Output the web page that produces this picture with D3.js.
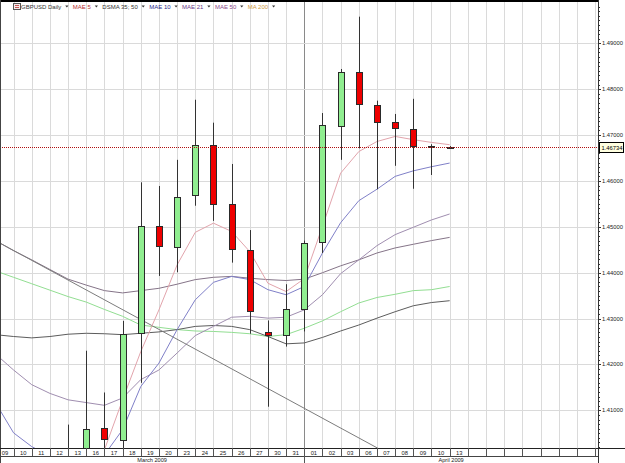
<!DOCTYPE html>
<html>
<head>
<meta charset="utf-8">
<script src="https://cdn.jsdelivr.net/npm/d3@7"></script>
<style>
body { margin: 0; background: #fff; }
svg { display: block; }
text { font-family: "Liberation Sans", Arial, sans-serif; }
</style>
</head>
<body>
<div id="chart"></div>
<script>
// day labels (one per trading session, 9 March - 13 April 2009)
const days = ["09","10","11","12","13","16","17","18","19","20","23","24","25","26","27","30","31",
              "01","02","03","06","07","08","09","10","13"];
const months = ["March 2009", "April 2009"];
const monthStart = [0, 17];

// OHLC (null = off the bottom of the chart)
const open  = [null,null,null,null,1.3985,1.3960,1.4061,1.4036,1.4268,1.4502,1.4456,1.4569,1.4678,1.4549,1.4450,1.4271,1.4264,1.4321,1.4465,1.4721,1.4837,1.4766,1.4728,1.4714,1.4677,1.4675];
const high  = [null,null,null,null,1.4069,1.4230,1.4139,1.4295,1.4597,1.4589,1.4646,1.4777,1.4727,1.4637,1.4493,1.4296,1.4375,1.4470,1.4748,1.4844,1.4958,1.4775,1.4746,1.4779,1.4680,1.4676];
const low   = [null,null,null,null,1.3900,1.3935,1.3990,1.3980,1.4160,1.4393,1.4401,1.4546,1.4513,1.4422,1.4267,1.4108,1.4239,1.4272,1.4443,1.4646,1.4671,1.4582,1.4633,1.4583,1.4613,1.4672];
const close = [null,null,null,null,1.3960,1.4060,1.4038,1.4267,1.4502,1.4459,1.4565,1.4678,1.4549,1.4451,1.4317,1.4264,1.4321,1.4465,1.4721,1.4838,1.4767,1.4729,1.4714,1.4677,1.4674,1.46734];
const lastPrice = 1.46734;

// indicator lines
const mae5  = [null,null,null,null,1.3950,1.3975,1.4014,1.4123,1.4228,1.4319,1.4417,1.4488,1.4508,1.4490,1.4446,1.4377,1.4359,1.4387,1.4501,1.4617,1.4664,1.4686,1.4697,1.4690,1.4684,1.4679];
const mae10 = [1.4117,1.4051,1.4021,1.4000,1.3990,1.3985,1.4003,1.4058,1.4152,1.4203,1.4276,1.4341,1.4379,1.4392,1.4385,1.4363,1.4352,1.4370,1.4443,1.4509,1.4557,1.4582,1.4610,1.4622,1.4631,1.4639];
const mae21 = [1.4223,1.4188,1.4156,1.4137,1.4123,1.4117,1.4111,1.4127,1.4167,1.4188,1.4225,1.4263,1.4283,1.4303,1.4305,1.4301,1.4303,1.4319,1.4352,1.4398,1.4428,1.4459,1.4483,1.4499,1.4515,1.4528];
const dsmaUp = [1.4470,1.4448,1.4428,1.4407,1.4386,1.4373,1.4361,1.4356,1.4361,1.4366,1.4375,1.4385,1.4390,1.4392,1.4388,1.4385,1.4383,1.4386,1.4400,1.4415,1.4428,1.4443,1.4454,1.4462,1.4470,1.4477];
const dsmaLo = [1.4265,1.4261,1.4258,1.4261,1.4266,1.4268,1.4267,1.4265,1.4268,1.4271,1.4276,1.4283,1.4285,1.4283,1.4276,1.4261,1.4245,1.4247,1.4259,1.4273,1.4286,1.4301,1.4315,1.4328,1.4335,1.4339];
const ma50  = [1.4404,1.4390,1.4376,1.4362,1.4348,1.4336,1.4320,1.4305,1.4286,1.4281,1.4276,1.4273,1.4272,1.4270,1.4267,1.4261,1.4265,1.4279,1.4295,1.4315,1.4334,1.4346,1.4353,1.4361,1.4363,1.4370];
const trendIdx = [0, 24];
const trendVal = [1.4470, 1.3954];

const legendNames  = ["GBPUSD Daily","MAE 5","DSMA 35; 50","MAE 10","MAE 21","MAE 50","MA 200"];
const legendColors = ["#333","#b83030","#333","#2a2a8a","#6a3a8a","#8a4a8a","#d09a40"];
const priceTicks = [1.41,1.42,1.43,1.44,1.45,1.46,1.47,1.48,1.49];

const W = 625, H = 463;
const pL = 0, pR = 598, pT = 2, pB = 448;
const nSlots = 33;

const svg = d3.select("#chart").append("svg").attr("width", W).attr("height", H);

const x = d3.scaleLinear().domain([0, nSlots]).range([-4.6, -4.6 + 18.17 * nSlots]);
const y = d3.scaleLinear().domain([1.4018, 1.4990]).range([pB, pT]);
const px = i => Math.round(x(i)) + 0.5;

svg.append("defs").append("clipPath").attr("id", "plotClip")
    .append("rect").attr("x", pL).attr("y", pT).attr("width", pR - pL).attr("height", pB - pT);

// grid
const grid = svg.append("g");
grid.selectAll(".vg").data(d3.range(1, nSlots + 1)).enter().append("line")
    .attr("x1", px).attr("x2", px).attr("y1", pT).attr("y2", pB)
    .attr("stroke", d => monthStart.includes(d) ? "#8a8a8a" : "#dadada").attr("stroke-width", 1);
grid.selectAll(".hg").data(priceTicks).enter().append("line")
    .attr("x1", pL).attr("x2", pR)
    .attr("y1", d => Math.round(y(d)) + 0.5).attr("y2", d => Math.round(y(d)) + 0.5)
    .attr("stroke", "#dadada");

const plot = svg.append("g").attr("clip-path", "url(#plotClip)");

// indicator lines
function series(vals) {
    return vals.map((v, i) => ({ i: i, v: v })).filter(d => d.v != null);
}
const line = d3.line().x(d => x(d.i)).y(d => y(d.v));
const lines = [
    { data: series(ma50), color: "#92de92" },
    { data: series(dsmaLo), color: "#5c5c5c" },
    { data: series(dsmaUp), color: "#857488" },
    { data: series(mae21), color: "#a08eb0" },
    { data: series(mae10), color: "#8080c8" },
    { data: trendIdx.map((t, k) => ({ i: t, v: trendVal[k] })), color: "#7c7c7c" },
    { data: series(mae5), color: "#e2a4ac" }
];
plot.selectAll(".ma").data(lines).enter().append("path")
    .attr("d", d => line(d.data)).attr("fill", "none")
    .attr("stroke", d => d.color).attr("stroke-width", 1);

// candles
const candles = days.map((d, i) => ({ i: i, o: open[i], h: high[i], l: low[i], c: close[i] }))
    .filter(d => d.o != null);
const cg = plot.selectAll(".candle").data(candles).enter().append("g");
cg.append("line")
    .attr("x1", d => px(d.i)).attr("x2", d => px(d.i))
    .attr("y1", d => y(d.h)).attr("y2", d => y(d.l))
    .attr("stroke", "#333");
cg.append("rect")
    .attr("x", d => px(d.i) - 3).attr("width", 6)
    .attr("y", d => Math.round(y(Math.max(d.o, d.c))) + 0.5)
    .attr("height", d => Math.max(1, Math.round(Math.abs(y(d.o) - y(d.c)))))
    .attr("fill", d => d.c >= d.o ? "#90ee90" : "#ee0000")
    .attr("stroke", "#2a2a2a");

// last price line
plot.append("line")
    .attr("x1", pL).attr("x2", pR)
    .attr("y1", Math.round(y(lastPrice)) + 0.5).attr("y2", Math.round(y(lastPrice)) + 0.5)
    .attr("stroke", "#b01010").attr("stroke-dasharray", "1,1");

// frame
svg.append("line").attr("x1", 0).attr("x2", pR).attr("y1", 1).attr("y2", 1)
    .attr("stroke", "#000").attr("stroke-width", 2);
svg.append("line").attr("x1", 0.5).attr("x2", 0.5).attr("y1", 0).attr("y2", H)
    .attr("stroke", "#444");
svg.append("line").attr("x1", pR + 0.5).attr("x2", pR + 0.5).attr("y1", 0).attr("y2", H)
    .attr("stroke", "#333");

// right price axis
const ax = svg.append("g");
ax.selectAll(".mt").data(d3.range(1402, 1499).map(v => v / 1000)).enter().append("line")
    .attr("x1", pR).attr("x2", d => pR + (Math.abs(d * 100 - Math.round(d * 100)) < 1e-6 ? 3 : 2))
    .attr("y1", d => Math.round(y(d)) + 0.5).attr("y2", d => Math.round(y(d)) + 0.5)
    .attr("stroke", "#333");
ax.selectAll(".tl").data(priceTicks).enter().append("text")
    .attr("x", pR + 4).attr("y", d => y(d) + 2)
    .attr("font-size", 5.8).attr("fill", "#222")
    .text(d3.format(".5f"));
const ly = Math.round(y(lastPrice));
ax.append("rect").attr("x", pR + 1.5).attr("y", ly - 4.5).attr("width", 24).attr("height", 10)
    .attr("fill", "#ffffe0").attr("stroke", "#000");
ax.append("text").attr("x", pR + 3.5).attr("y", ly + 2.5)
    .attr("font-size", 5.8).attr("fill", "#000").text(d3.format(".5f")(lastPrice));

// bottom time axis
const bx = svg.append("g");
bx.append("line").attr("x1", 0).attr("x2", W).attr("y1", pB + 0.5).attr("y2", pB + 0.5).attr("stroke", "#222");
bx.append("line").attr("x1", 0).attr("x2", pR).attr("y1", 456.5).attr("y2", 456.5).attr("stroke", "#444");
bx.selectAll(".sep").data(d3.range(1, nSlots + 1)).enter().append("line")
    .attr("x1", px).attr("x2", px).attr("y1", pB)
    .attr("y2", d => monthStart.includes(d) ? H : 456)
    .attr("stroke", "#555");
bx.selectAll(".dl").data(days).enter().append("text")
    .attr("x", (d, i) => (x(i) + x(i + 1)) / 2 + 0.5).attr("y", 454.5)
    .attr("text-anchor", "middle").attr("font-size", 5.8).attr("fill", "#222")
    .text(d => d);
bx.selectAll(".ml").data(months).enter().append("text")
    .attr("x", (d, k) => {
        const a = k === 0 ? 0 : x(monthStart[k]);
        const b = k + 1 < months.length ? x(monthStart[k + 1]) : pR;
        return (a + b) / 2;
    })
    .attr("y", 462.3).attr("text-anchor", "middle").attr("font-size", 5.6).attr("fill", "#222")
    .text(d => d);

// legend
const lg = svg.append("g");
lg.append("rect").attr("x", 13.5).attr("y", 3.5).attr("width", 7).attr("height", 6)
    .attr("fill", "#f4e8e8").attr("stroke", "#555");
lg.append("path").attr("d", "M15,5.5H19M15,7.5H19").attr("stroke", "#b83030").attr("stroke-width", 0.8);
let lx = 21;
legendNames.forEach((name, k) => {
    const t = lg.append("text").attr("x", lx).attr("y", 8.5).attr("font-size", 6)
        .attr("fill", legendColors[k]).text(name);
    const w = t.node().getComputedTextLength();
    const ac = lx + w + 5.5;
    lg.append("path").attr("d", `M${ac - 1.6},5.6L${ac + 1.6},5.6L${ac},7.6Z`).attr("fill", "#333");
    lx = ac + 6;
});
</script>
</body>
</html>
